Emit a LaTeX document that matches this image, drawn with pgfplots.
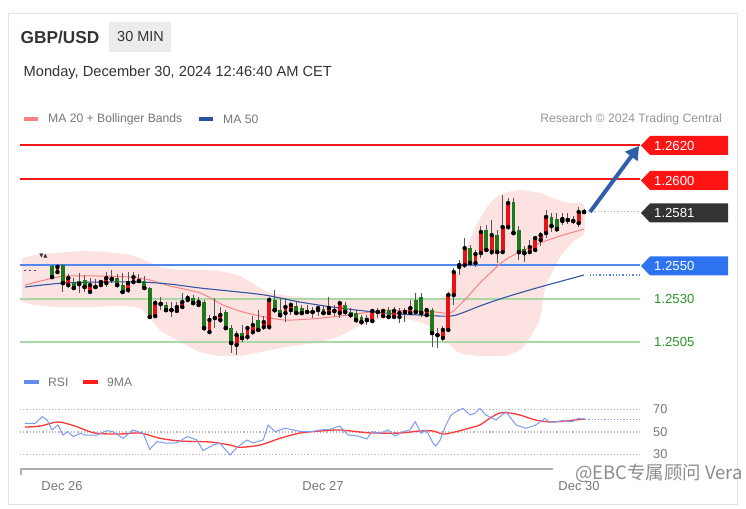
\documentclass[border=0pt]{standalone}
\usepackage{fontspec}
\setmainfont{Liberation Sans}
\newfontfamily\cjk{Noto Sans CJK SC}
\newfontfamily\dejavu{DejaVu Sans}
\usepackage{pgfplots}
\pgfplotsset{compat=1.18}
\usepackage{pgfplotstable}
\usetikzlibrary{arrows.meta}

\definecolor{cardborder}{RGB}{226,226,226}
\definecolor{hdr}{RGB}{51,51,51}
\definecolor{boxgray}{RGB}{236,236,236}
\definecolor{lgray}{RGB}{119,119,119}
\definecolor{rgray}{RGB}{150,150,150}
\definecolor{bandcol}{RGB}{253,226,226}
\definecolor{ma20}{RGB}{250,130,130}
\definecolor{ma50}{RGB}{50,85,165}
\definecolor{lvlred}{RGB}{240,25,25}
\definecolor{lvlblue}{RGB}{80,135,240}
\definecolor{lvlgreen}{RGB}{170,215,165}
\definecolor{txtgreen}{RGB}{40,150,40}
\definecolor{tagred}{RGB}{255,20,20}
\definecolor{tagdark}{RGB}{51,51,51}
\definecolor{tagblue}{RGB}{45,115,240}
\definecolor{cred}{RGB}{228,20,20}
\definecolor{cgreen}{RGB}{30,120,30}
\definecolor{wick}{RGB}{85,85,85}
\definecolor{arrowblue}{RGB}{45,95,170}
\definecolor{rsicol}{RGB}{125,155,240}
\definecolor{rsima}{RGB}{255,55,55}
\definecolor{dotgray}{RGB}{185,185,185}
\definecolor{axgray}{RGB}{175,175,175}
\definecolor{lgsalmon}{RGB}{255,128,128}
\definecolor{lgblue}{RGB}{45,80,160}
\definecolor{lgrsi}{RGB}{100,140,240}
\definecolor{lgma}{RGB}{255,30,30}

% up (red) candles: k open high low close
\pgfplotstableread{
k o h l c
1 1.25458 1.25505 1.25447 1.25488
3 1.25382 1.25447 1.25365 1.25423
7 1.25342 1.25423 1.25336 1.25382
9 1.25382 1.25412 1.25377 1.25400
10 1.25394 1.25458 1.25371 1.25423
14 1.25353 1.25458 1.25336 1.25394
15 1.25400 1.25458 1.25394 1.25429
19 1.25201 1.25295 1.25196 1.25277
23 1.25231 1.25283 1.25225 1.25254
24 1.25254 1.25336 1.25248 1.25283
25 1.25295 1.25324 1.25283 1.25306
27 1.25266 1.25312 1.25260 1.25283
29 1.25108 1.25207 1.25102 1.25178
31 1.25178 1.25254 1.25160 1.25207
34 1.25032 1.25114 1.24974 1.25090
36 1.25079 1.25137 1.25061 1.25131
37 1.25108 1.25201 1.25090 1.25149
39 1.25137 1.25201 1.25120 1.25166
40 1.25137 1.25312 1.25120 1.25295
43 1.25219 1.25306 1.25166 1.25254
44 1.25236 1.25283 1.25207 1.25266
49 1.25236 1.25260 1.25201 1.25248
51 1.25219 1.25312 1.25207 1.25248
53 1.25219 1.25289 1.25190 1.25277
59 1.25172 1.25242 1.25160 1.25231
61 1.25201 1.25242 1.25190 1.25231
63 1.25196 1.25254 1.25184 1.25231
64 1.25196 1.25248 1.25160 1.25219
66 1.25219 1.25295 1.25207 1.25248
69 1.25207 1.25248 1.25196 1.25236
72 1.25073 1.25143 1.25055 1.25120
73 1.25120 1.25342 1.25108 1.25324
74 1.25324 1.25482 1.25266 1.25458
75 1.25488 1.25528 1.25441 1.25499
76 1.25499 1.25657 1.25482 1.25598
78 1.25511 1.25587 1.25488 1.25563
79 1.25569 1.25727 1.25540 1.25692
81 1.25575 1.25762 1.25558 1.25674
83 1.25575 1.25908 1.25563 1.25721
84 1.25721 1.25890 1.25704 1.25861
88 1.25575 1.25645 1.25563 1.25604
89 1.25587 1.25669 1.25575 1.25657
90 1.25645 1.25692 1.25610 1.25674
91 1.25686 1.25820 1.25657 1.25780
94 1.25756 1.25803 1.25733 1.25768
97 1.25744 1.25838 1.25721 1.25809
}\up

% down (green) candles
\pgfplotstableread{
k o h l c
0 1.25493 1.25499 1.25423 1.25429
2 1.25499 1.25505 1.25342 1.25394
4 1.25394 1.25423 1.25353 1.25365
5 1.25406 1.25452 1.25336 1.25388
6 1.25412 1.25441 1.25342 1.25371
8 1.25382 1.25417 1.25359 1.25371
11 1.25429 1.25470 1.25394 1.25417
12 1.25423 1.25447 1.25377 1.25382
13 1.25382 1.25452 1.25336 1.25342
16 1.25417 1.25447 1.25394 1.25406
17 1.25406 1.25435 1.25359 1.25365
18 1.25365 1.25371 1.25184 1.25196
20 1.25283 1.25312 1.25236 1.25271
21 1.25266 1.25283 1.25225 1.25236
22 1.25242 1.25283 1.25196 1.25236
26 1.25306 1.25324 1.25266 1.25277
28 1.25283 1.25295 1.25114 1.25131
30 1.25196 1.25306 1.25131 1.25190
32 1.25225 1.25236 1.25120 1.25131
33 1.25131 1.25149 1.24985 1.25044
35 1.25102 1.25149 1.25050 1.25073
38 1.25178 1.25236 1.25108 1.25120
41 1.25295 1.25353 1.25219 1.25236
42 1.25236 1.25306 1.25190 1.25207
45 1.25260 1.25283 1.25207 1.25219
46 1.25248 1.25266 1.25207 1.25219
47 1.25231 1.25266 1.25219 1.25225
48 1.25231 1.25254 1.25190 1.25225
50 1.25242 1.25266 1.25207 1.25219
52 1.25236 1.25266 1.25201 1.25231
54 1.25266 1.25283 1.25207 1.25225
55 1.25225 1.25248 1.25190 1.25207
56 1.25219 1.25236 1.25160 1.25178
57 1.25196 1.25207 1.25149 1.25166
58 1.25184 1.25207 1.25149 1.25178
60 1.25231 1.25248 1.25190 1.25225
62 1.25236 1.25254 1.25184 1.25196
65 1.25231 1.25248 1.25166 1.25225
67 1.25295 1.25336 1.25207 1.25225
68 1.25312 1.25336 1.25196 1.25219
70 1.25236 1.25248 1.25020 1.25102
71 1.25102 1.25131 1.25014 1.25090
77 1.25598 1.25616 1.25493 1.25511
80 1.25704 1.25733 1.25575 1.25587
82 1.25674 1.25704 1.25511 1.25575
85 1.25867 1.25890 1.25674 1.25686
86 1.25704 1.25727 1.25528 1.25575
87 1.25593 1.25610 1.25517 1.25569
92 1.25780 1.25803 1.25692 1.25727
93 1.25768 1.25803 1.25692 1.25709
95 1.25768 1.25803 1.25739 1.25762
96 1.25762 1.25785 1.25739 1.25756
98 1.25820 1.25826 1.25797 1.25809
}\down

% Bollinger band outline (upper band left->right, lower band right->left)
\pgfplotstableread{
k p
-5.5 1.25540
-3.1 1.25558
0.6 1.25569
5.2 1.25581
9.8 1.25575
14.4 1.25558
17.1 1.25528
19.9 1.25488
23.6 1.25470
27.3 1.25470
30.9 1.25464
34.6 1.25435
37.4 1.25382
40.1 1.25336
43.8 1.25318
49.4 1.25306
56.7 1.25295
64.1 1.25301
69.6 1.25306
72.0 1.25312
73.7 1.25382
75.5 1.25528
77.5 1.25686
79.4 1.25803
81.2 1.25879
83.4 1.25920
86.2 1.25937
89.9 1.25920
92.6 1.25885
95.4 1.25861
98.0 1.25850
98.0 1.25686
96.3 1.25645
93.6 1.25546
90.9 1.25371
89.9 1.25190
88.0 1.25073
86.2 1.25003
83.4 1.24968
78.8 1.24968
75.1 1.24985
72.9 1.25044
70.5 1.25120
67.8 1.25166
64.1 1.25190
61.3 1.25190
58.6 1.25166
55.8 1.25131
53.0 1.25085
49.4 1.25050
45.7 1.25032
42.0 1.25014
38.3 1.24991
34.6 1.24968
30.9 1.24968
27.3 1.24991
23.6 1.25050
19.9 1.25120
18.0 1.25190
16.2 1.25248
12.5 1.25260
7.0 1.25254
1.5 1.25254
-3.1 1.25266
-5.5 1.25283
}\band

\pgfplotstableread{
k p
-5.0 1.25382
-1.3 1.25412
2.4 1.25435
8.8 1.25435
14.4 1.25429
18.0 1.25412
21.7 1.25377
27.3 1.25336
31.5 1.25266
35.2 1.25225
39.2 1.25196
42.9 1.25178
47.5 1.25184
53.0 1.25201
58.6 1.25225
61.3 1.25236
65.9 1.25231
70.5 1.25225
73.3 1.25219
75.1 1.25266
77.0 1.25330
78.8 1.25394
80.7 1.25452
82.5 1.25505
84.3 1.25546
86.2 1.25575
89.9 1.25628
93.6 1.25669
98.0 1.25709
}\maA

\pgfplotstableread{
k p
-5.0 1.25371
2.0 1.25394
8.8 1.25400
16.2 1.25400
21.7 1.25388
27.3 1.25365
32.8 1.25347
39.2 1.25324
45.7 1.25283
53.0 1.25248
61.3 1.25219
67.8 1.25207
73.3 1.25201
76.0 1.25225
78.8 1.25260
83.6 1.25312
89.9 1.25371
98.0 1.25441
}\maB

\pgfplotstableread{
k v
-5.0 57.7
-3.1 57.7
-1.8 63.6
-0.9 60.7
0.0 51.8
1.1 56.2
2.0 47.3
2.9 50.3
3.9 45.9
5.2 48.8
6.1 47.3
8.3 47.3
10.1 51.2
11.2 50.3
13.1 44.4
14.9 51.8
16.8 48.8
18.0 34.6
19.3 41.4
21.2 40.0
23.0 40.4
24.9 45.9
26.7 42.9
27.8 33.4
29.7 38.5
30.9 40.0
32.8 29.6
34.1 36.4
35.9 42.9
37.0 40.4
38.9 42.9
39.8 56.2
41.1 50.3
42.9 53.3
44.4 51.8
46.0 50.3
47.9 50.3
49.4 51.8
51.2 52.4
53.0 55.3
54.5 47.3
56.4 46.4
58.0 43.8
58.9 50.3
60.4 48.8
61.9 51.8
63.2 46.4
64.6 50.3
65.9 51.8
66.9 59.2
68.0 48.8
68.9 51.8
70.2 40.0
70.7 37.6
71.5 42.9
72.4 54.7
73.5 65.1
74.4 68.0
75.7 71.0
77.0 65.1
77.9 66.6
78.8 71.0
79.9 65.1
81.8 60.7
83.6 68.0
85.5 56.2
87.3 53.3
89.1 56.2
90.8 62.1
91.7 58.3
94.1 60.1
95.9 59.2
96.9 62.1
98.2 61.2
}\rsi

\pgfplotstableread{
k v
-5.0 54.4
-2.2 55.3
1.1 58.9
4.2 55.3
7.9 49.1
12.5 48.2
16.2 49.1
19.9 44.4
23.6 42.0
29.1 41.1
32.8 38.4
34.6 36.4
38.3 38.4
42.0 44.4
45.7 49.1
49.4 50.9
53.0 51.8
56.7 50.0
59.1 49.1
64.1 49.1
67.8 50.9
70.2 50.9
72.0 48.2
74.2 50.0
77.0 53.6
78.8 56.2
80.7 62.4
82.5 66.9
84.3 66.9
86.2 65.1
89.0 60.7
91.7 58.9
94.5 59.8
98.2 61.6
}\rsima

\newcommand{\pricetag}[3]{%
  \fill[#2] (641,#1) -- (650,{#1+9.5}) -- (728,{#1+9.5}) -- (728,{#1-9.5}) -- (650,{#1-9.5}) -- cycle;
  \node[anchor=west, inner sep=0, text=white, font=\fontsize{13.2}{15}\selectfont] at (654,#1) {#3};}

\begin{document}
\begin{tikzpicture}
\useasboundingbox (0bp,0bp) rectangle (746bp,509bp);
\begin{scope}[x=1bp,y=1bp]
\fill[white] (0,0) rectangle (746,509);
\draw[cardborder, line width=1bp] (8,5) rectangle (737,495);

% header
\node[anchor=west, inner sep=0, font=\bfseries\fontsize{17.3}{20}\selectfont, text=hdr] at (20.5,472) {GBP/USD};
\fill[boxgray] (109,457) rectangle (171,487);
\node[inner sep=0, font=\fontsize{14.5}{17}\selectfont, text=hdr] at (140.5,472) {30 MIN};
\node[anchor=west, inner sep=0, font=\fontsize{14.7}{17}\selectfont, text=hdr] at (23.5,436) {Monday, December 30, 2024 12:46:40 AM CET};

% legend
\fill[lgsalmon] (24,387.5) rectangle (38,391.5);
\node[anchor=west, inner sep=0, font=\fontsize{12.2}{14}\selectfont, text=lgray] at (48,389.5) {MA 20 + Bollinger Bands};
\fill[lgblue] (199,387.5) rectangle (213,391.5);
\node[anchor=west, inner sep=0, font=\fontsize{12.2}{14}\selectfont, text=lgray] at (223,389.5) {MA 50};
\node[anchor=east, inner sep=0, font=\fontsize{12.2}{14}\selectfont, text=rgray] at (722,389.5) {Research © 2024 Trading Central};

% RSI legend
\fill[lgrsi] (24,125) rectangle (39,129);
\node[anchor=west, inner sep=0, font=\fontsize{12.2}{14}\selectfont, text=lgray] at (48,127) {RSI};
\fill[lgma] (83,125) rectangle (98,129);
\node[anchor=west, inner sep=0, font=\fontsize{12.2}{14}\selectfont, text=lgray] at (107,127) {9MA};
\end{scope}

% price panel
\begin{axis}[at={(20bp,153bp)}, anchor=south west, scale only axis,
  width=620bp, height=226bp, xmin=-5.9, xmax=108.3,
  ymin=1.24968, ymax=1.26288, hide axis]
\addplot[fill=bandcol, draw=none, smooth, tension=0.4] table[x=k, y=p] {\band};
\addplot[lvlgreen, line width=1.6bp] coordinates {(-5.9,1.2530) (108.3,1.2530)};
\addplot[lvlgreen, line width=1.6bp] coordinates {(-5.9,1.2505) (108.3,1.2505)};
\addplot[lvlred, line width=2bp] coordinates {(-5.9,1.2620) (108.3,1.2620)};
\addplot[lvlred, line width=2bp] coordinates {(-5.9,1.2600) (108.3,1.2600)};
\addplot[lvlblue, line width=2bp] coordinates {(-5.9,1.2550) (108.3,1.2550)};
\addplot[ma20, line width=1bp, smooth] table[x=k, y=p] {\maA};
\addplot[ma50, line width=1.1bp, smooth] table[x=k, y=p] {\maB};
\addplot[dotgray, line width=1.3bp, dotted] coordinates {(99.3,1.2581) (108.3,1.2581)};
\addplot[lvlblue, line width=1.3bp, dotted] coordinates {(99.0,1.25441) (108.3,1.25441)};
\addplot[wick, line width=1bp, dash pattern=on 2.5bp off 2.5bp] coordinates {(-5.2,1.2547) (-2.6,1.2547)};
% wicks
\addplot[only marks, mark=none, error bars/.cd, y dir=both, y explicit, error mark=none,
  error bar style={line width=0.9bp, draw=wick}]
  table[x=k, y=c, y error plus expr=\thisrow{h}-\thisrow{c}, y error minus expr=\thisrow{c}-\thisrow{l}] {\up};
\addplot[only marks, mark=none, error bars/.cd, y dir=both, y explicit, error mark=none,
  error bar style={line width=0.9bp, draw=wick}]
  table[x=k, y=c, y error plus expr=\thisrow{h}-\thisrow{c}, y error minus expr=\thisrow{c}-\thisrow{l}] {\down};
% bodies
\addplot[only marks, mark=none, error bars/.cd, y dir=plus, y explicit, error mark=none,
  error bar style={line width=3.8bp, draw=cred}]
  table[x=k, y=o, y error plus expr=\thisrow{c}-\thisrow{o}] {\up};
\addplot[only marks, mark=none, error bars/.cd, y dir=plus, y explicit, error mark=none,
  error bar style={line width=3.8bp, draw=cgreen}]
  table[x=k, y=c, y error plus expr=\thisrow{o}-\thisrow{c}] {\down};
\end{axis}

% RSI panel
\begin{axis}[at={(20bp,45.5bp)}, anchor=south west, scale only axis,
  width=620bp, height=63bp, xmin=-5.9, xmax=108.3,
  ymin=22, ymax=78, hide axis]
\addplot[dotgray, line width=1.2bp, dotted] coordinates {(-5.9,70) (108.3,70)};
\addplot[dotgray, line width=1.2bp, dotted] coordinates {(-5.9,50) (108.3,50)};
\addplot[dotgray, line width=1.2bp, dotted] coordinates {(-5.9,30) (108.3,30)};
\addplot[rsima, line width=1.3bp, smooth] table[x=k, y=v] {\rsima};
\addplot[rsicol, line width=1bp] table[x=k, y=v] {\rsi};
\addplot[rsicol, line width=1.2bp, dotted] coordinates {(98.2,61.2) (108.3,61.2)};
\end{axis}

\begin{scope}[x=1bp,y=1bp]
% small markers at the left of the price panel
\node[inner sep=0, text=hdr, font=\dejavu\fontsize{5.5}{6}\selectfont] at (43.5,252.5) {▼▲};
% price tags and labels
\pricetag{363.5}{tagred}{1.2620}
\pricetag{328.5}{tagred}{1.2600}
\pricetag{296}{tagdark}{1.2581}
\pricetag{243}{tagblue}{1.2550}
\node[anchor=west, inner sep=0, text=txtgreen, font=\fontsize{13.2}{15}\selectfont] at (654,210) {1.2530};
\node[anchor=west, inner sep=0, text=txtgreen, font=\fontsize{13.2}{15}\selectfont] at (654,167) {1.2505};
\draw[arrowblue, line width=4bp, -{Triangle[length=13bp,width=15bp]}] (590,297) -- (639,363);

\node[anchor=west, inner sep=0, text=lgray, font=\fontsize{12.8}{15}\selectfont] at (653,100) {70};
\node[anchor=west, inner sep=0, text=lgray, font=\fontsize{12.8}{15}\selectfont] at (653,77) {50};
\node[anchor=west, inner sep=0, text=lgray, font=\fontsize{12.8}{15}\selectfont] at (653,55) {30};

% bottom time axis
\draw[axgray, line width=1.6bp] (20.8,34) -- (20.8,40) -- (553,40);
\node[inner sep=0, text=lgray, font=\fontsize{13}{15}\selectfont] at (62,23) {Dec 26};
\node[inner sep=0, text=lgray, font=\fontsize{13}{15}\selectfont] at (323,23) {Dec 27};
\node[inner sep=0, text=lgray, font=\fontsize{13}{15}\selectfont] at (579,23) {Dec 30};

% watermark
\node[anchor=west, inner sep=0, text=black!45, font=\cjk\fontsize{18.5}{21}\selectfont] at (575,36) {@EBC专属顾问 Vera};
\end{scope}
\end{tikzpicture}
\end{document}
